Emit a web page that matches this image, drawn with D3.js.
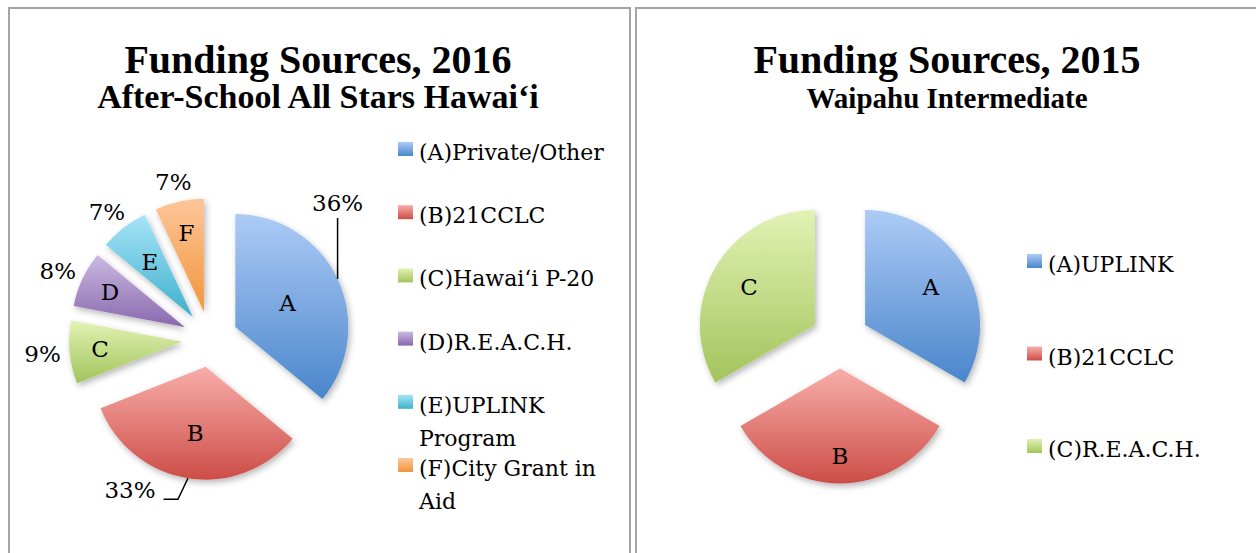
<!DOCTYPE html>
<html>
<head>
<meta charset="utf-8">
<script src="https://cdn.jsdelivr.net/npm/d3@7"></script>
<style>
  html, body { margin: 0; padding: 0; background: #fff; }
  svg { display: block; }
</style>
</head>
<body>
<div id="chart"></div>
<script>
// Two exploded pie charts (Excel style): funding sources 2016 vs 2015.

const LEFT_TITLE = 'Funding Sources, 2016';
const LEFT_SUBTITLE = 'After-School All Stars Hawai‘i';
const LEFT_CATS = ['A', 'B', 'C', 'D', 'E', 'F'];
const LEFT_VALUES = [36, 33, 9, 8, 7, 7];
const LEFT_LEGEND = [
  ['(A)Private/Other'],
  ['(B)21CCLC'],
  ['(C)Hawai‘i P-20'],
  ['(D)R.E.A.C.H.'],
  ['(E)UPLINK', 'Program'],
  ['(F)City Grant in', 'Aid'],
];

const RIGHT_TITLE = 'Funding Sources, 2015';
const RIGHT_SUBTITLE = 'Waipahu Intermediate';
const RIGHT_CATS = ['A', 'B', 'C'];
const RIGHT_VALUES = [1, 1, 1];
const RIGHT_LEGEND = [['(A)UPLINK'], ['(B)21CCLC'], ['(C)R.E.A.C.H.']];

// gradient stops per series colour: [top, bottom]
const GRAD = {
  blue: ['#adcbf6', '#4a86cb'],
  red: ['#f8aeaa', '#cd4d47'],
  green: ['#e2f2b4', '#a2c45c'],
  purple: ['#cbbae2', '#8768ad'],
  cyan: ['#a6e4f8', '#3fb0cc'],
  orange: ['#fcc69a', '#f3953a'],
};
const LEFT_COLORS = ['blue', 'red', 'green', 'purple', 'cyan', 'orange'];
const RIGHT_COLORS = ['blue', 'red', 'green'];

const W = 1256, H = 553;
const TEXT = "'DejaVu Serif', serif";
const TITLE = "'Liberation Serif', serif";

const svg = d3.select('#chart').append('svg')
  .attr('width', W).attr('height', H)
  .attr('viewBox', `0 0 ${W} ${H}`);

const defs = svg.append('defs');
for (const [k, [c0, c1]] of Object.entries(GRAD)) {
  const g = defs.append('linearGradient').attr('id', 'g-' + k)
    .attr('x1', 0).attr('y1', 0).attr('x2', 0).attr('y2', 1);
  g.append('stop').attr('offset', 0).attr('stop-color', c0);
  g.append('stop').attr('offset', 1).attr('stop-color', c1);
}
defs.append('filter').attr('id', 'shadow')
  .attr('x', '-20%').attr('y', '-20%').attr('width', '150%').attr('height', '150%')
  .append('feDropShadow')
  .attr('dx', 2).attr('dy', 3).attr('stdDeviation', 3)
  .attr('flood-color', '#000').attr('flood-opacity', 0.28);

// panel frames
[[9, 621], [636, 624]].forEach(([x, w]) => {
  svg.append('rect')
    .attr('x', x).attr('y', 8).attr('width', w).attr('height', H + 20)
    .attr('fill', 'none').attr('stroke', '#a4a4a4').attr('stroke-width', 2);
});

function titles(cx, title, sub, subSize) {
  svg.append('text').attr('x', cx).attr('y', 73)
    .attr('text-anchor', 'middle').style('font-family', TITLE)
    .style('font-weight', 'bold').style('font-size', '40px').text(title);
  svg.append('text').attr('x', cx).attr('y', 108)
    .attr('text-anchor', 'middle').style('font-family', TITLE)
    .style('font-weight', 'bold').style('font-size', subSize + 'px').text(sub);
}

function pieChart(opt) {
  const { cx, cy, r, explode, cats, values, colors, letterR } = opt;
  const slices = d3.pie().sort(null).value((d) => d)(values);
  const arc = d3.arc().innerRadius(0).outerRadius(r);
  const mid = (d) => (d.startAngle + d.endAngle) / 2;
  const dir = (d) => [Math.sin(mid(d)), -Math.cos(mid(d))];

  const g = svg.append('g').attr('transform', `translate(${cx},${cy})`);
  const sg = g.selectAll('g.slice').data(slices).join('g')
    .attr('class', 'slice')
    .attr('transform', (d) => {
      const [ux, uy] = dir(d);
      return `translate(${ux * explode},${uy * explode})`;
    });
  sg.append('path')
    .attr('d', arc)
    .attr('fill', (d, i) => `url(#g-${colors[i]})`)
    .attr('filter', 'url(#shadow)');
  sg.append('text')
    .attr('x', (d, i) => dir(d)[0] * r * letterR[i])
    .attr('y', (d, i) => dir(d)[1] * r * letterR[i])
    .attr('dy', '0.35em')
    .attr('text-anchor', 'middle')
    .style('font-family', TEXT).style('font-size', '23px').style('fill', '#000')
    .text((d, i) => cats[i]);

  return { g, slices, dir, r, explode };
}

function legend(x, y0, step, lines, colors) {
  lines.forEach((ls, i) => {
    const y = y0 + i * step;
    svg.append('rect').attr('x', x).attr('y', y - 7).attr('width', 15).attr('height', 14)
      .attr('fill', `url(#g-${colors[i]})`);
    const t = svg.append('text').attr('x', x + 21).attr('y', y + 11)
      .style('font-family', TEXT).style('font-size', '22px').style('fill', '#000');
    ls.forEach((s, j) => t.append('tspan').attr('x', x + 21).attr('dy', j ? 33 : 0).text(s));
  });
}

// ---------- left chart ----------
titles(318, LEFT_TITLE, LEFT_SUBTITLE, 34);
const L = pieChart({
  cx: 210, cy: 339, r: 113, explode: 28,
  cats: LEFT_CATS, values: LEFT_VALUES, colors: LEFT_COLORS,
  letterR: [0.51, 0.59, 0.73, 0.73, 0.62, 0.71],
});

const total = d3.sum(LEFT_VALUES);
const pct = (v) => d3.format('.0%')(v / total);
L.slices.forEach((d, i) => {
  const [ux, uy] = L.dir(d);
  const edge = L.r + L.explode; // outer point on the exploded slice's bisector
  const px = ux * edge, py = uy * edge;
  const t = L.g.append('text')
    .attr('text-anchor', 'middle').attr('dy', '0.35em')
    .style('font-family', TEXT).style('font-size', '23px').style('fill', '#000')
    .text(pct(d.value));
  const hw = t.node().getComputedTextLength() / 2;
  if (i === 0) {
    // dragged label with a vertical leader
    const lx = px, ly = py - 76;
    t.attr('x', lx).attr('y', ly);
    L.g.append('path').attr('d', `M${px},${py}V${ly + 15}`)
      .attr('stroke', '#000').attr('stroke-width', 1.5).attr('fill', 'none');
  } else if (i === 1) {
    const lx = px - 58, ly = py + 12;
    t.attr('x', lx).attr('y', ly);
    L.g.append('path').attr('d', `M${px},${py}L${px - 10},${ly + 9}H${lx + hw + 8}`)
      .attr('stroke', '#000').attr('stroke-width', 1.5).attr('fill', 'none');
  } else {
    const pad = 9;
    t.attr('x', ux * (edge + pad) + ux * hw).attr('y', uy * (edge + pad) + uy * 11);
  }
});
legend(398, 149, 63.2, LEFT_LEGEND, LEFT_COLORS);

// ---------- right chart ----------
titles(947, RIGHT_TITLE, RIGHT_SUBTITLE, 29);
pieChart({
  cx: 840, cy: 339.5, r: 115, explode: 29,
  cats: RIGHT_CATS, values: RIGHT_VALUES, colors: RIGHT_COLORS,
  letterR: [0.66, 0.76, 0.66],
});
legend(1027, 261, 92.5, RIGHT_LEGEND, RIGHT_COLORS);
</script>
</body>
</html>
